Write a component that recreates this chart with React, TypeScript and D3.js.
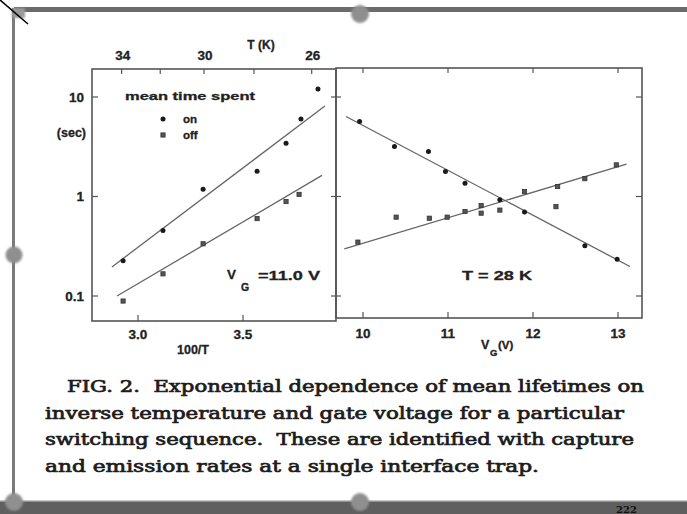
import React from "react";
import * as d3 from "d3";

// ---- Data ----
// Left panel: mean time spent vs 100/T at V_G = 11.0 V
const invTOn = [2.929, 3.119, 3.31, 3.567, 3.705, 3.776, 3.857];
const timeOn = [0.226, 0.454, 1.18, 1.79, 3.43, 6.0, 12.0];
const invTOff = [2.929, 3.119, 3.31, 3.567, 3.705, 3.767];
const timeOff = [0.089, 0.167, 0.335, 0.6, 0.89, 1.05];
const fitOnX = [2.876, 3.89];
const fitOnY = [0.196, 8.1];
const fitOffX = [2.9, 3.876];
const fitOffY = [0.1, 1.63];

// Right panel: mean time spent vs V_G at T = 28 K
const vgOn = [9.96, 10.37, 10.77, 10.97, 11.2, 11.61, 11.9, 12.61, 12.99];
const rOn = [5.67, 3.18, 2.83, 1.78, 1.36, 0.93, 0.7, 0.319, 0.234];
const vgOff = [9.94, 10.39, 10.78, 10.99, 11.2, 11.39, 11.39, 11.61, 11.9, 12.27, 12.29, 12.61, 12.98];
const rOff = [0.348, 0.62, 0.605, 0.62, 0.707, 0.81, 0.68, 0.73, 1.12, 0.79, 1.26, 1.51, 2.08];
const fitROnX = [9.8, 13.14];
const fitROnY = [6.37, 0.198];
const fitROffX = [9.78, 13.1];
const fitROffY = [0.298, 2.11];

// Tick labels
const yTicks = [10, 1, 0.1];
const yTickLabels = ["10", "1", "0.1"];
const bottomTicksL = [3.0, 3.5];
const bottomTickLabelsL = ["3.0", "3.5"];
const topTicksT = [34, 32, 30, 28, 26];
const topLabelsT = [34, 30, 26];
const vgTicks = [10, 11, 12, 13];
const vgTickLabels = ["10", "11", "12", "13"];

const captionLines = [
  "FIG. 2.  Exponential dependence of mean lifetimes on",
  "inverse temperature and gate voltage for a particular",
  "switching sequence.  These are identified with capture",
  "and emission rates at a single interface trap.",
];

const SANS = "'Liberation Sans', Arial, sans-serif";
const SERIF = "'DejaVu Serif', serif";
const INK = "#222";
const AX = "#555";

export default function App() {
  const y = d3.scaleLog().domain([0.1, 10]).range([296, 97]);
  const xL = d3.scaleLinear().domain([3.0, 3.5]).range([138, 243]);
  const xR = d3.scaleLinear().domain([10, 13]).range([363, 618]);

  const L = { x0: 92, x1: 336, y0: 69, y1: 321 };
  const R = { x0: 336, x1: 642, y0: 68, y1: 318 };

  const line = (xs: number[], ys: number[], xs_: any) =>
    d3
      .line<number>()
      .x((_, i) => xs_(xs[i]))
      .y((_, i) => y(ys[i]))(xs.map((v) => v)) as string;

  const onDot = (cx: number, cy: number, k: string) => (
    <circle key={k} cx={cx} cy={cy} r={2.5} fill="#1a1a1a" />
  );
  const offDot = (cx: number, cy: number, k: string) => (
    <rect key={k} x={cx - 2.1} y={cy - 2.1} width={4.2} height={4.2} fill="#555" stroke="#333" strokeWidth={0.8} />
  );

  const tk = { stroke: AX, strokeWidth: 1.2 };
  const txt = { fontFamily: SANS, fontWeight: 700, fill: INK, stroke: INK, strokeWidth: 0.3 } as const;

  return (
    <svg
      width={687}
      height={514}
      style={{ position: "fixed", left: 0, top: 0, background: "#fff" }}
    >
      <defs>
        <filter id="soft" x="-50%" y="-50%" width="200%" height="200%">
          <feGaussianBlur stdDeviation="1.2" />
        </filter>
      </defs>

      {/* ---- page frame ---- */}
      <rect x={14} y={7} width={673} height={5} fill="#6b6b6b" />
      <rect x={12} y={8} width={3} height={495} fill="#7a7a7a" />
      <rect x={0} y={501} width={687} height={13} fill="#5f5f5f" />
      <rect x={0} y={500} width={687} height={1.5} fill="#c8c8c8" />
      <rect x={12} y={8} width={13} height={10} fill="#9a9a9a" filter="url(#soft)" />
      <g filter="url(#soft)" fill="#8f8f8f">
        <circle cx={360} cy={14} r={9} />
        <circle cx={14} cy={255} r={8.5} />
        <circle cx={14} cy={502} r={9} />
        <circle cx={360} cy={502} r={9} />
      </g>
      <line x1={0} y1={0} x2={28} y2={24} stroke="#000" strokeWidth={1.6} />
      <text x={616} y={513} fontFamily={SERIF} fontWeight={700} fontSize={10} fill="#111">222</text>

      {/* ---- left panel ---- */}
      <rect x={L.x0} y={L.y0} width={L.x1 - L.x0} height={L.y1 - L.y0} fill="none" stroke={AX} strokeWidth={1.6} />
      {yTicks.map((t) => (
        <g key={"ly" + t}>
          <line x1={L.x0} x2={L.x0 + 6} y1={y(t)} y2={y(t)} {...tk} />
          <line x1={L.x1 - 5} x2={L.x1 + 5} y1={y(t)} y2={y(t)} {...tk} />
        </g>
      ))}
      {yTicks.map((t, i) => (
        <text key={"lyl" + t} x={84} y={y(t) + 4.5} textAnchor="end" fontSize={13.5} {...txt}>
          {yTickLabels[i]}
        </text>
      ))}
      <text x={86} y={137} textAnchor="end" fontSize={12.5} {...txt}>(sec)</text>
      {bottomTicksL.map((t, i) => (
        <g key={"lb" + t}>
          <line x1={xL(t)} x2={xL(t)} y1={L.y1} y2={L.y1 - 6} {...tk} />
          <text x={xL(t)} y={L.y1 + 18} textAnchor="middle" fontSize={13.5} {...txt}>
            {bottomTickLabelsL[i]}
          </text>
        </g>
      ))}
      <text x={193} y={354} textAnchor="middle" fontSize={12.5} {...txt}>100/T</text>
      {topTicksT.map((T) => (
        <line key={"lt" + T} x1={xL(100 / T) - 4} x2={xL(100 / T) - 4} y1={L.y0} y2={L.y0 + 5} {...tk} />
      ))}
      {topLabelsT.map((T) => (
        <text key={"ltl" + T} x={xL(100 / T) - 3} y={60} textAnchor="middle" fontSize={13.5} {...txt}>
          {T}
        </text>
      ))}
      <text x={261} y={49} textAnchor="middle" fontSize={12} {...txt}>T (K)</text>

      {/* legend */}
      <text x={125} y={100} fontSize={11.5} textLength={130} lengthAdjust="spacingAndGlyphs" {...txt}>
        mean time spent
      </text>
      {onDot(163, 119, "lgon")}
      <text x={183} y={123} fontSize={11.5} {...txt}>on</text>
      {offDot(163, 135, "lgoff")}
      <text x={183} y={139} fontSize={11.5} {...txt}>off</text>

      {/* V_G label */}
      <text x={227} y={279} fontSize={13.5} {...txt}>V</text>
      <text x={241} y={291} fontSize={10.5} {...txt}>G</text>
      <text x={258} y={280} fontSize={13} textLength={62} lengthAdjust="spacingAndGlyphs" {...txt}>=11.0 V</text>

      <path d={line(fitOnX, fitOnY, xL)} fill="none" stroke="#666" strokeWidth={1.3} />
      <path d={line(fitOffX, fitOffY, xL)} fill="none" stroke="#666" strokeWidth={1.3} />
      {invTOn.map((v, i) => onDot(xL(v), y(timeOn[i]), "lon" + i))}
      {invTOff.map((v, i) => offDot(xL(v), y(timeOff[i]), "loff" + i))}

      {/* ---- right panel ---- */}
      <rect x={R.x0} y={R.y0} width={R.x1 - R.x0} height={R.y1 - R.y0} fill="none" stroke={AX} strokeWidth={1.6} />
      {yTicks.map((t) => (
        <line key={"ry" + t} x1={R.x1 - 6} x2={R.x1} y1={y(t)} y2={y(t)} {...tk} />
      ))}
      {vgTicks.map((t, i) => (
        <g key={"rx" + t}>
          <line x1={xR(t)} x2={xR(t)} y1={R.y0} y2={R.y0 + 5} {...tk} />
          <line x1={xR(t)} x2={xR(t)} y1={R.y1} y2={R.y1 - 6} {...tk} />
          <text x={xR(t)} y={R.y1 + 20} textAnchor="middle" fontSize={13.5} {...txt}>
            {vgTickLabels[i]}
          </text>
        </g>
      ))}
      <text x={481} y={349} fontSize={12.5} {...txt}>V</text>
      <text x={490} y={356} fontSize={9.5} {...txt}>G</text>
      <text x={498} y={349} fontSize={11.5} {...txt}>(V)</text>
      <text x={462} y={280} fontSize={12.5} textLength={70} lengthAdjust="spacingAndGlyphs" {...txt}>T = 28 K</text>

      <path d={line(fitROnX, fitROnY, xR)} fill="none" stroke="#666" strokeWidth={1.3} />
      <path d={line(fitROffX, fitROffY, xR)} fill="none" stroke="#666" strokeWidth={1.3} />
      {vgOn.map((v, i) => onDot(xR(v), y(rOn[i]), "ron" + i))}
      {vgOff.map((v, i) => offDot(xR(v), y(rOff[i]), "roff" + i))}

      {/* ---- caption ---- */}
      {captionLines.map((s, i) => {
        const x0 = [67, 45, 45, 45][i];
        const x1 = [644, 624, 634, 539][i];
        return (
          <text
            key={"cap" + i}
            x={x0}
            y={392 + i * 26.7}
            fontFamily={SERIF}
            fontSize={16.5}
            fill="#1c1c1c"
            stroke="#1c1c1c"
            strokeWidth={0.7}
            textLength={x1 - x0}
            lengthAdjust="spacingAndGlyphs"
            style={{ whiteSpace: "pre" }}
          >
            {s}
          </text>
        );
      })}
    </svg>
  );
}
